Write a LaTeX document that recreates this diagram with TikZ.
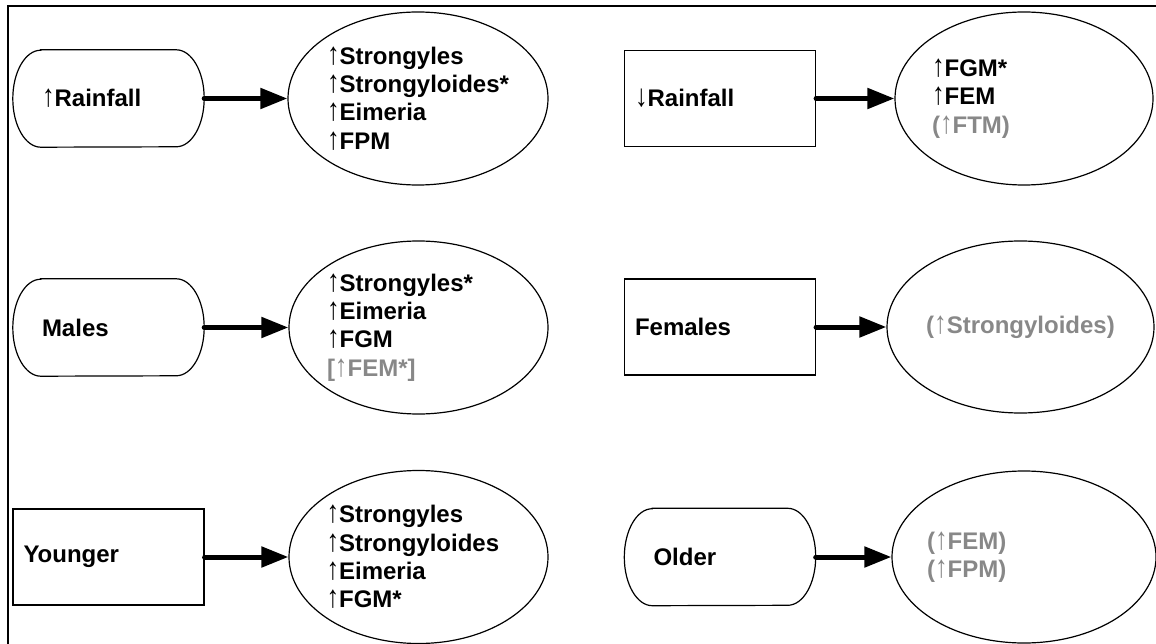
\documentclass[tikz,border=0pt]{standalone}
\usepackage{fontspec}
\setmainfont{Liberation Sans}
\usetikzlibrary{shapes.geometric,arrows.meta}
\definecolor{txtgray}{RGB}{136,136,136}
\newcommand{\ua}{\scalebox{1.05}[1.3]{↑}}
\newcommand{\da}{\scalebox{1.05}[1.3]{↓}}
\begin{document}
\begin{tikzpicture}[x=1pt,y=-1pt,
  every node/.style={font=\fontsize{24}{28.3}\selectfont\bfseries},
  pill/.style={rectangle, minimum width=191pt, minimum height=97pt,
    inner xsep=29pt, text width=133pt, align=left},
  outline/.style={draw, line width=1.2pt},
  boxr/.style={outline, rectangle, minimum width=191pt, minimum height=96pt,
    inner xsep=10.5pt, text width=170pt, align=left},
  oval/.style={outline, ellipse, minimum height=173pt, inner sep=-30pt, align=left},
  link/.style={line width=5pt, line cap=round, -{Triangle[length=27pt,width=20pt]}},
  greytxt/.style={text=txtgray}
]
\newcommand{\pillshape}[1]{%
  \draw[outline] ([xshift=28pt]#1.north west) -- ([xshift=-28pt]#1.north east)
    arc[start angle=90,end angle=-90,x radius=28pt,y radius=48.5pt]
    -- ([xshift=28pt]#1.south west)
    arc[start angle=270,end angle=90,x radius=28pt,y radius=48.5pt] -- cycle;}
\useasboundingbox (0,0) rectangle (1156,644);
% frame
\draw[line width=1.8pt] (8,650) -- (8,6) -- (1160,6);

% left column
\node[pill] (a1) at (108.5,98.5) {\ua Rainfall};
\node[pill] (a2) at (108.5,327.5) {Males};
\node[boxr] (a3) at (108.5,557) {Younger};
\pillshape{a1}
\pillshape{a2}

\node[oval, minimum width=260pt, text width=182pt] (e1) at (418,98.5)
  {\ua Strongyles\\\ua Strongyloides*\\\ua Eimeria\\\ua FPM};
\node[oval, minimum width=259pt, text width=183pt] (e2) at (418.5,327.5)
  {\ua Strongyles*\\\ua Eimeria\\\ua FGM\\{\color{txtgray}[\ua FEM*]}};
\node[oval, minimum width=259pt, text width=184pt] (e3) at (418.5,557)
  {\ua Strongyles\\\ua Strongyloides\\\ua Eimeria\\\ua FGM*};

% right column
\node[boxr] (b1) at (720,98.5) {\da Rainfall};
\node[boxr] (b2) at (720,327) {Females};
\node[pill] (b3) at (720,557) {Older};
\pillshape{b3}

\node[oval, minimum width=258pt, text width=184pt] (e4) at (1024,98.5)
  {\ua FGM*\\\ua FEM\\{\color{txtgray}(\ua FTM)}};
\node[oval, minimum width=267pt, align=center, greytxt, minimum height=172pt] (e5) at (1020.5,327)
  {(\ua Strongyloides)};
\node[oval, minimum width=264pt, text width=194pt, greytxt, minimum height=172pt] (e6) at (1024,557)
  {(\ua FEM)\\(\ua FPM)};

% connectors
\draw[link] (a1) -- (e1);
\draw[link] (a2) -- (e2);
\draw[link] (a3) -- (e3);
\draw[link] (b1) -- (e4);
\draw[link] (b2) -- (e5);
\draw[link] (b3) -- (e6);
\end{tikzpicture}
\end{document}
